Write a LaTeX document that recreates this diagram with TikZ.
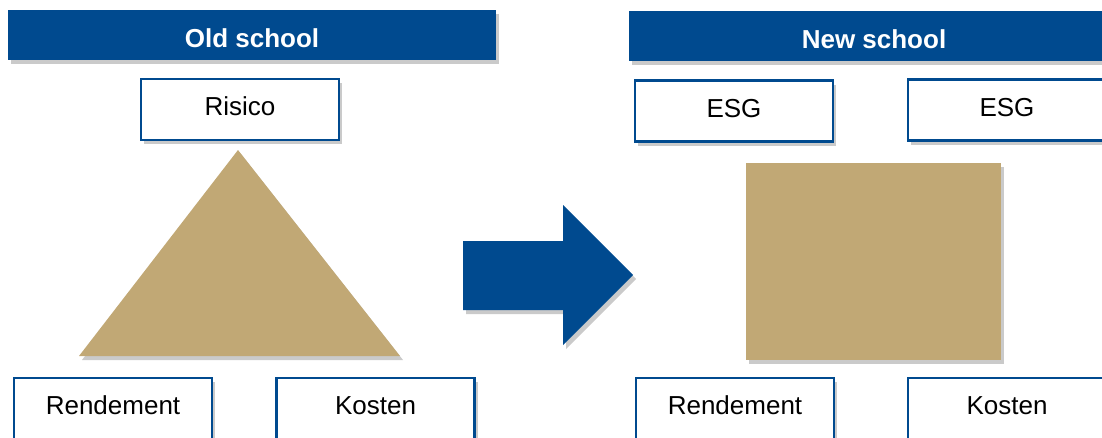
\documentclass[tikz,border=0pt]{standalone}
\usepackage{fontspec}
\setmainfont{Liberation Sans}
\usetikzlibrary{shadows,positioning}
\definecolor{schoolblue}{RGB}{0,74,143}
\definecolor{schooltan}{RGB}{193,168,117}

\begin{document}
\begin{tikzpicture}[x=1pt, y=-1pt,
    shade/.style={drop shadow={shadow xshift=3pt, shadow yshift=-4pt, opacity=0.35, fill=black!60}},
    header/.style={rectangle, fill=schoolblue, text=white, font=\fontsize{26}{30}\selectfont\bfseries, minimum height=50pt, inner sep=0pt, text height=25pt, text depth=0pt, shade},
    factor/.style={rectangle, draw=schoolblue, line width=2.2pt, fill=white, font=\fontsize{26}{30}\selectfont, minimum width=198pt, minimum height=61pt, inner sep=0pt, text height=19pt, text depth=7pt, shade}]
    \useasboundingbox (0,0) rectangle (1102,437);
    % old school
    \node[header, minimum width=488pt] (oldhead) at (252,35) {Old school};
    \node[factor] (risico) at (240,109.5) {Risico};
    \fill[schooltan, shade] (238,150) -- (400,356) -- (79,356) -- cycle;
    \node[factor] (rendL) at (113,408.5) {Rendement};
    \node[factor] (kostL) at (375.5,408.5) {Kosten};
    % arrow
    \fill[schoolblue, shade] (463,241) -- (563,241) -- (563,205) -- (633,275) -- (563,345) -- (563,310) -- (463,310) -- cycle;
    % new school
    \node[header, minimum width=490pt] (newhead) at (874,36) {New school};
    \node[factor] (esgA) at (734,111) {ESG};
    \node[factor] (esgB) at (1007,110) {ESG};
    \fill[schooltan, shade] (746,163) rectangle (1001,360);
    \node[factor] (rendR) at (735,408.5) {Rendement};
    \node[factor] (kostR) at (1007,408.5) {Kosten};
\end{tikzpicture}
\end{document}
